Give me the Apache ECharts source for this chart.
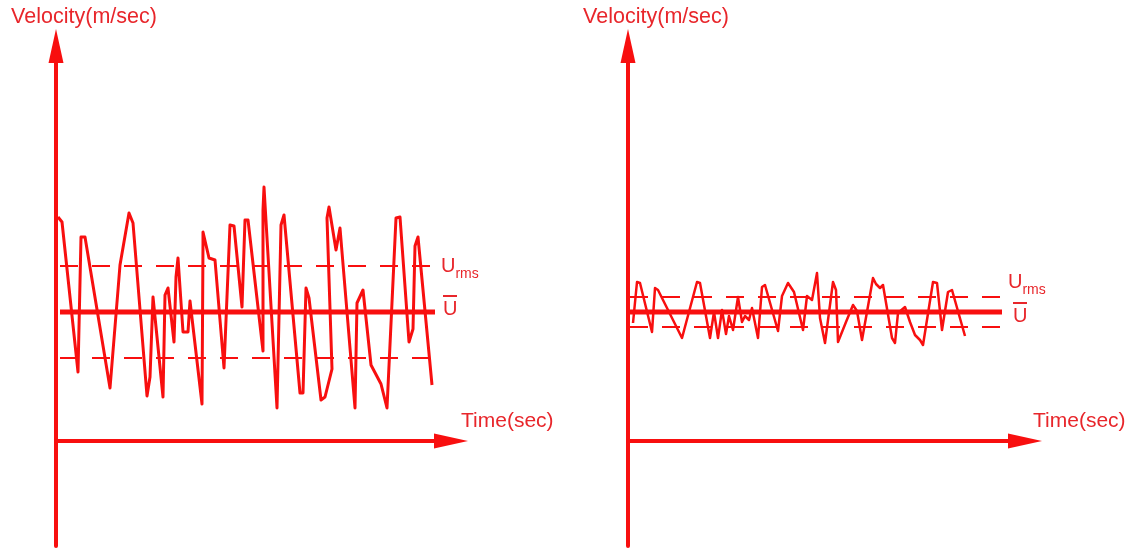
<!DOCTYPE html>
<html>
<head>
<meta charset="utf-8">
<title>Velocity</title>
<script src="https://cdn.jsdelivr.net/npm/echarts@6/dist/echarts.min.js"></script>
<style>
html, body { margin: 0; padding: 0; background: #fff; }
#main { width: 1133px; height: 548px; }
</style>
</head>
<body>
<div id="main"></div>
<script>
// 左: 强湍流, 右: 弱湍流  [时间, 速度]
var leftSignal = [
  [2, 22.4], [6, 21.9], [22, 6.9], [25, 20.4], [29, 20.4], [54, 5.3], [62, 15.1], [64, 17.6],
  [73, 22.8], [77, 21.8], [91, 4.5], [94, 6.4], [97, 14.4], [107, 4.4], [109, 14.6], [112, 15.3],
  [118, 9.9], [120, 16.4], [122, 18.3], [127, 10.9], [132, 10.9], [134, 14.0], [136, 13.8], [146, 3.7],
  [147, 19.8], [147, 20.9], [153, 18.3], [159, 18.1], [168, 7.3], [174, 21.6], [178, 21.5], [186, 13.4],
  [189, 22.1], [192, 22.1], [207, 9.0], [207, 23.1], [208, 25.4], [221, 3.3], [225, 21.6], [228, 22.6],
  [244, 4.8], [247, 4.8], [250, 15.3], [253, 14.3], [265, 4.1], [269, 4.4], [276, 7.2], [271, 22.3],
  [273, 23.4], [280, 19.1], [284, 21.3], [299, 3.3], [301, 13.8], [307, 15.1], [315, 7.6], [325, 5.7],
  [331, 3.3], [340, 22.3], [344, 22.4], [353, 9.9], [357, 11.2], [359, 19.5], [362, 20.4], [376, 5.6]
];
var rightSignal = [
  [5, 11.8], [9, 15.9], [12, 15.8], [24, 10.9], [27, 15.3], [30, 15.1], [54, 10.3], [69, 15.9],
  [72, 15.8], [82, 10.3], [86, 12.9], [90, 10.3], [94, 13.1], [98, 10.7], [101, 12.5], [105, 11.1],
  [110, 14.4], [114, 11.9], [117, 12.5], [121, 12.1], [124, 13.3], [130, 10.3], [134, 15.4], [137, 15.6],
  [150, 11.0], [154, 14.5], [160, 15.8], [166, 14.9], [175, 11.1], [179, 14.5], [184, 14.1], [189, 16.8],
  [192, 12.3], [197, 9.8], [205, 15.9], [208, 15.1], [210, 9.9], [218, 11.9], [225, 13.6], [229, 13.0],
  [234, 10.1], [245, 16.3], [248, 15.7], [252, 15.3], [255, 15.6], [264, 10.3], [267, 9.8], [270, 12.8],
  [277, 13.4], [282, 11.9], [287, 10.6], [292, 10.1], [295, 9.6], [305, 15.9], [309, 15.8], [314, 11.1],
  [320, 14.9], [324, 15.1], [337, 10.5]
];
var meanU = [12.9, 12.9];
var rmsU = [4.6, 1.5];
var spanT = [[4, 379], [2, 374]];
var axisMaxT = [395, 397];
var velRange = [-10.5, 39.5];
var yName = 'Velocity(m/sec)';
var xName = 'Time(sec)';

var red = '#f80f0f';
var txtRed = '#e8262b';
var font = 'Liberation Sans, Arial, sans-serif';

function flat(i, v) {
  return [[spanT[i][0], v], [spanT[i][1], v]];
}

var urmsRich = {
  u: { fontSize: 20, color: txtRed, fontFamily: font, lineHeight: 22 },
  s: { fontSize: 14, color: txtRed, fontFamily: font, lineHeight: 22, verticalAlign: 'bottom', padding: [0, 0, -4, 0] }
};
var ubarRich = {
  bar: { width: 14, height: 2, lineHeight: 6, backgroundColor: txtRed },
  u: { fontSize: 20, color: txtRed, fontFamily: font, lineHeight: 20 }
};

function panel(i, signal, sigWidth, labelCfg) {
  return [
    {
      type: 'line', xAxisIndex: i, yAxisIndex: i, data: signal,
      symbol: 'none', lineStyle: { color: red, width: sigWidth, join: 'round' }, z: 3
    },
    {
      type: 'line', xAxisIndex: i, yAxisIndex: i, data: flat(i, meanU[i]),
      symbol: 'none', lineStyle: { color: red, width: 5 }, z: 2,
      endLabel: {
        show: true, distance: labelCfg.uDist, offset: [0, labelCfg.uOff],
        formatter: '{bar| }\n{u|U}', rich: ubarRich, align: 'left'
      }
    },
    {
      type: 'line', xAxisIndex: i, yAxisIndex: i, data: flat(i, meanU[i] + rmsU[i]),
      symbol: 'none', lineStyle: { color: red, width: 1.8, type: [18, 14] }, z: 1,
      endLabel: {
        show: true, distance: labelCfg.rDist, offset: [0, labelCfg.rOff],
        formatter: '{u|U}{s|rms}', rich: urmsRich
      }
    },
    {
      type: 'line', xAxisIndex: i, yAxisIndex: i, data: flat(i, meanU[i] - rmsU[i]),
      symbol: 'none', lineStyle: { color: red, width: 1.8, type: [18, 14] }, z: 1
    }
  ];
}

function xAx(i) {
  return {
    type: 'value', gridIndex: i, min: 0, max: axisMaxT[i],
    name: xName, nameLocation: 'end', nameGap: i === 0 ? 10 : 8,
    nameTextStyle: { color: txtRed, fontSize: 21, fontFamily: font, align: 'left', verticalAlign: 'bottom', lineHeight: 40 },
    axisLine: { onZero: true, symbol: ['none', 'triangle'], symbolSize: [15, 34], lineStyle: { color: red, width: 4 } },
    axisTick: { show: false }, axisLabel: { show: false }, splitLine: { show: false }
  };
}
function yAx(i) {
  return {
    type: 'value', gridIndex: i, min: velRange[0], max: velRange[1],
    name: yName, nameLocation: 'end', nameGap: 29,
    nameTextStyle: { color: txtRed, fontSize: 21.5, fontFamily: font, align: 'center', verticalAlign: 'middle', padding: [0, 0, 0, 56] },
    axisLine: { onZero: true, symbol: ['none', 'triangle'], symbolSize: [15, 34], lineStyle: { color: red, width: 4 } },
    axisTick: { show: false }, axisLabel: { show: false }, splitLine: { show: false }
  };
}

var myChart = echarts.init(document.getElementById('main'));
var option = {
  animation: false,
  backgroundColor: '#fff',
  grid: [
    { left: 56, top: 46, width: axisMaxT[0], height: 500 },
    { left: 628, top: 46, width: axisMaxT[1], height: 500 }
  ],
  xAxis: [xAx(0), xAx(1)],
  yAxis: [yAx(0), yAx(1)],
  series: panel(0, leftSignal, 3, { uDist: 8, uOff: -6, rDist: 6, rOff: 0 })
    .concat(panel(1, rightSignal, 2.5, { uDist: 11, uOff: 1, rDist: 6, rOff: -15 }))
};
myChart.setOption(option);
window.onresize = function () {
  myChart.resize();
};
</script>
</body>
</html>
